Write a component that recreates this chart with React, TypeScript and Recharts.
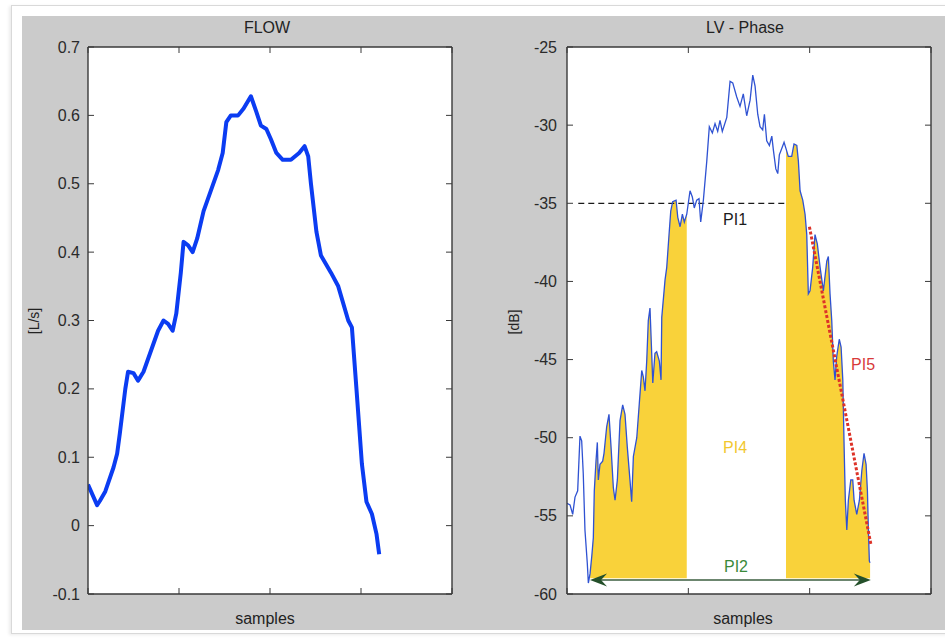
import React from 'react';
import { LineChart, ComposedChart, Line, Area, XAxis, YAxis, ReferenceLine, ReferenceDot, CartesianGrid } from 'recharts';

// ---------- FLOW panel data ----------
const flowSamples = [0, 10, 13, 19, 28, 32, 35, 41, 44, 50, 55, 61, 69, 77, 83, 88, 93, 97, 102, 105, 110, 115, 120, 127, 135, 143, 148, 152, 157, 165, 171, 179, 185, 190, 196, 201, 207, 214, 223, 232, 238, 242, 245, 251, 256, 267, 275, 286, 290, 295, 301, 306, 312, 317, 320];
const flowValues = [0.06, 0.03, 0.036, 0.05, 0.085, 0.105, 0.135, 0.2, 0.225, 0.223, 0.212, 0.225, 0.255, 0.285, 0.3, 0.295, 0.285, 0.31, 0.37, 0.415, 0.41, 0.4, 0.42, 0.46, 0.49, 0.52, 0.545, 0.59, 0.6, 0.6, 0.61, 0.628, 0.605, 0.585, 0.58, 0.565, 0.545, 0.535, 0.535, 0.545, 0.555, 0.54, 0.5, 0.43, 0.395, 0.37, 0.35, 0.3, 0.29, 0.2, 0.09, 0.035, 0.017, -0.012, -0.042];
const flowTicksY = [-0.1, 0, 0.1, 0.2, 0.3, 0.4, 0.5, 0.6, 0.7];
const flowTicksX = [0, 100, 200, 300, 400];

// ---------- LV - Phase panel data ----------
const phaseSamples = [0, 2.5, 4.7, 6.6, 8.8, 10.7, 12.1, 13.4, 14.8, 16.7, 17.6, 19, 20.4, 21.7, 22.5, 23.9, 25, 25.8, 27.2, 29.4, 30.5, 32.7, 34.6, 36.3, 38.2, 39.6, 41.5, 43.7, 45.9, 47.8, 49.7, 51.9, 53.3, 54.7, 57.5, 59.6, 61.6, 62.9, 64.3, 65.7, 67, 68.4, 69.8, 70.7, 72.5, 73.9, 76.1, 77.5, 78.1, 80.8, 82.2, 84.1, 85.5, 87.1, 89.9, 91.3, 93.2, 95.1, 96.7, 98.7, 101.4, 103.3, 104.9, 106.9, 108.8, 110.2, 112.4, 115.2, 117.3, 119.8, 122, 124.2, 126.1, 128, 131.7, 134.4, 136.6, 139.9, 142.6, 145.3, 148.1, 150.9, 153.1, 155, 157.2, 159.1, 161.3, 162.7, 164.6, 166.8, 168.8, 170.1, 172.1, 173.7, 175, 177, 178.9, 180.5, 182.4, 185.2, 187.1, 189.4, 190.7, 192.1, 194.3, 196.2, 197.6, 198.9, 200.3, 202.5, 204.4, 206.3, 208.6, 211.3, 214.1, 215.4, 216.8, 218.2, 219.5, 220.9, 222.3, 224.4, 225.9, 227.3, 228.4, 229.4, 230.6, 231.9, 233.9, 235.5, 236.6, 238.8, 241, 243, 244.8, 246.5, 247.6, 248.4, 249.2, 249.8];
const phaseValues = [-54.2, -54.3, -54.9, -53.8, -53.4, -49.9, -50.2, -52.3, -55.9, -58, -59.3, -58.7, -57.6, -56.4, -53.4, -51.5, -50.3, -52.7, -51.7, -51.5, -51, -49.3, -48.5, -50.6, -53.2, -54, -52.7, -48.9, -47.9, -48.5, -50.6, -52.7, -54.1, -51.2, -50, -47.8, -45.7, -46.1, -47, -45.1, -42.5, -41.7, -44.6, -46.5, -44.6, -44.5, -45.1, -46.3, -42.3, -39.9, -39.1, -37, -35.5, -34.9, -34.8, -35.9, -36.5, -35.7, -36.2, -35.7, -34.2, -34.6, -35.3, -34.8, -34.7, -36.2, -34.8, -32.3, -30.1, -30.5, -29.9, -30.4, -29.7, -30.4, -29.5, -27.2, -27.3, -28.2, -28.8, -28, -29.4, -28.4, -26.8, -27.5, -29.3, -30.1, -30.3, -29.3, -31, -31.3, -30.7, -31.6, -32.8, -33.1, -31.9, -31.5, -31.1, -31.5, -32, -32, -31.2, -31.3, -32.3, -34.2, -34.8, -35.7, -37, -40.8, -40.6, -39.1, -37, -37.6, -39.1, -40.6, -38.7, -38.4, -40.8, -42.5, -45.1, -46.3, -44.8, -43.7, -44.2, -46.3, -50.6, -54, -55.9, -54, -52.7, -52.7, -54, -54.9, -54, -52.1, -51, -51.7, -53.4, -55.9, -57.9, -58];
const phaseTicksY = [-60, -55, -50, -45, -40, -35, -30, -25];
const phaseTicksX = [0, 100, 200, 300];

// PI annotations
const pi4Ranges = [[19, 98.7], [180.5, 249.8]];
const pi4Base = -59;
const pi1Segment = [{ x: 9.3, y: -35 }, { x: 182.4, y: -35 }];
const pi2Segment = [{ x: 19, y: -59.1 }, { x: 250.4, y: -59.1 }];
const pi5Segment = [{ x: 199.8, y: -36.5 }, { x: 250.4, y: -56.8 }];
const piLabels = ['PI1', 'PI4', 'PI2', 'PI5'];
const piLabelX = [138.5, 138.5, 139.3, 244];
const piLabelY = [-36, -50.6, -58.2, -45.3];
const piLabelColors = ['#1c1c1c', '#f2c72e', '#3a8a3a', '#d83a3a'];

const flowData = flowSamples.map((s, i) => ({ s, v: flowValues[i] }));
const phaseData = phaseSamples.map((s, i) => ({
  s,
  v: phaseValues[i],
  fill: pi4Ranges.some(([a, b]) => s >= a && s <= b) ? phaseValues[i] : null,
}));

const FONT = '"Liberation Sans", Arial, Helvetica, sans-serif';
const AXIS = '#3a3a3a';
const TICK = 6;

const makeLeftTick = (gap: number, fmt: (v: number) => string) => (props: any) => {
  const { x, y, payload } = props;
  return (
    <g>
      <line x1={x + gap} x2={x + gap + TICK} y1={y} y2={y} stroke={AXIS} strokeWidth={1} />
      <text x={x} y={y} dy="0.35em" textAnchor="end" fill="#2a2a2a" fontSize={16} fontFamily={FONT}>
        {fmt(payload.value)}
      </text>
    </g>
  );
};
const RightTick = (props: any) => {
  const { x, y } = props;
  return <line x1={x} x2={x - TICK} y1={y} y2={y} stroke={AXIS} strokeWidth={1} />;
};
const BottomTick = (props: any) => {
  const { x, y } = props;
  return <line x1={x} x2={x} y1={y} y2={y - TICK} stroke={AXIS} strokeWidth={1} />;
};
const TopTick = (props: any) => {
  const { x, y } = props;
  return <line x1={x} x2={x} y1={y} y2={y + TICK} stroke={AXIS} strokeWidth={1} />;
};

const ArrowShape = (p: any) => {
  const { x1, y1, x2, y2 } = p;
  const head = '#24502a';
  const L = 17, H = 6.5, N = 11;
  return (
    <g>
      <line x1={x1 + 6} y1={y1} x2={x2 - 6} y2={y2} stroke="#3b5e3f" strokeWidth={1.5} />
      <polygon points={`${x1},${y1} ${x1 + L},${y1 - H} ${x1 + N},${y1} ${x1 + L},${y1 + H}`} fill={head} />
      <polygon points={`${x2},${y2} ${x2 - L},${y2 - H} ${x2 - N},${y2} ${x2 - L},${y2 + H}`} fill={head} />
    </g>
  );
};

const txt: React.CSSProperties = {
  position: 'absolute',
  fontFamily: FONT,
  fontSize: 16,
  color: '#222',
  lineHeight: '20px',
  textAlign: 'center',
  width: 200,
  whiteSpace: 'nowrap',
};
const vtxt: React.CSSProperties = {
  ...txt,
  fontSize: 14,
  width: 80,
  transform: 'rotate(-90deg)',
};

const flowFmt = (v: number) => (v === 0 ? '0' : String(v));
const phaseFmt = (v: number) => String(v);

export default function App() {
  return (
    <div style={{ position: 'absolute', left: 0, top: 0, width: 945, height: 638, overflow: 'hidden', background: '#fff' }}>
      <div style={{ position: 'absolute', left: 11, top: 5, width: 960, height: 627, border: '1px solid #d9d9d9', boxShadow: '-2px 1px 3px rgba(0,0,0,0.08)' }} />
      <div style={{ position: 'absolute', left: 22, top: 16, width: 923, height: 614, background: '#cbcbcb' }} />

      {/* FLOW */}
      <div style={{ position: 'absolute', left: 22, top: 16 }}>
        <LineChart width={458} height={614} data={flowData} margin={{ top: 0, right: 0, bottom: 0, left: 0 }}>
          <CartesianGrid xAxisId="b" yAxisId="l" fill="#ffffff" fillOpacity={1} horizontal={false} vertical={false} />
          <XAxis xAxisId="b" type="number" dataKey="s" domain={[0, 400]} ticks={flowTicksX} interval={0} height={36}
            allowDataOverflow tickSize={0} tickMargin={0} tickLine={false} axisLine={{ stroke: AXIS, strokeWidth: 1.4 }} tick={BottomTick} />
          <XAxis xAxisId="t" orientation="top" type="number" dataKey="s" domain={[0, 400]} ticks={flowTicksX} interval={0} height={31}
            allowDataOverflow tickSize={0} tickMargin={0} tickLine={false} axisLine={{ stroke: AXIS, strokeWidth: 1.4 }} tick={TopTick} />
          <YAxis yAxisId="l" type="number" domain={[-0.1, 0.7]} ticks={flowTicksY} interval={0} width={66}
            allowDataOverflow tickSize={0} tickMargin={8} tickLine={false} axisLine={{ stroke: AXIS, strokeWidth: 1.4 }} tick={makeLeftTick(8, flowFmt)} />
          <YAxis yAxisId="r" orientation="right" type="number" domain={[-0.1, 0.7]} ticks={flowTicksY} interval={0} width={28}
            allowDataOverflow tickSize={0} tickMargin={0} tickLine={false} axisLine={{ stroke: AXIS, strokeWidth: 1.4 }} tick={RightTick} />
          <Line xAxisId="b" yAxisId="l" type="linear" dataKey="v" stroke="#0b3cf2" strokeWidth={4} dot={false}
            isAnimationActive={false} strokeLinejoin="round" />
        </LineChart>
      </div>

      {/* LV - Phase */}
      <div style={{ position: 'absolute', left: 480, top: 16 }}>
        <ComposedChart width={465} height={614} data={phaseData} margin={{ top: 0, right: 0, bottom: 0, left: 0 }}>
          <CartesianGrid xAxisId="b" yAxisId="l" fill="#ffffff" fillOpacity={1} horizontal={false} vertical={false} />
          <XAxis xAxisId="b" type="number" dataKey="s" domain={[0, 300]} ticks={phaseTicksX} interval={0} height={36}
            allowDataOverflow tickSize={0} tickMargin={0} tickLine={false} axisLine={{ stroke: AXIS, strokeWidth: 1.4 }} tick={BottomTick} />
          <XAxis xAxisId="t" orientation="top" type="number" dataKey="s" domain={[0, 300]} ticks={phaseTicksX} interval={0} height={31}
            allowDataOverflow tickSize={0} tickMargin={0} tickLine={false} axisLine={{ stroke: AXIS, strokeWidth: 1.4 }} tick={TopTick} />
          <YAxis yAxisId="l" type="number" domain={[-60, -25]} ticks={phaseTicksY} interval={0} width={87}
            allowDataOverflow tickSize={0} tickMargin={10} tickLine={false} axisLine={{ stroke: AXIS, strokeWidth: 1.4 }} tick={makeLeftTick(10, phaseFmt)} />
          <YAxis yAxisId="r" orientation="right" type="number" domain={[-60, -25]} ticks={phaseTicksY} interval={0} width={14}
            allowDataOverflow tickSize={0} tickMargin={0} tickLine={false} axisLine={{ stroke: AXIS, strokeWidth: 1.4 }} tick={RightTick} />
          <Area xAxisId="b" yAxisId="l" type="linear" dataKey="fill" baseValue={pi4Base} stroke="none" fill="#f9d23a"
            fillOpacity={1} connectNulls={false} isAnimationActive={false} dot={false} activeDot={false} />
          <ReferenceLine xAxisId="b" yAxisId="l" segment={pi1Segment} stroke="#1a1a1a" strokeWidth={1.3} strokeDasharray="6 4" />
          <Line xAxisId="b" yAxisId="l" type="linear" dataKey="v" stroke="#2f52d2" strokeWidth={1.3} dot={false}
            isAnimationActive={false} />
          <ReferenceLine xAxisId="b" yAxisId="l" segment={pi5Segment} stroke="#dd3328" strokeWidth={3} strokeDasharray="3 2" />
          <ReferenceLine xAxisId="b" yAxisId="l" segment={pi2Segment} shape={ArrowShape} />
          {piLabels.map((t, i) => (
            <ReferenceDot key={t} xAxisId="b" yAxisId="l" x={piLabelX[i]} y={piLabelY[i]} r={0} fill="none" stroke="none"
              label={{ value: t, position: 'center', fill: piLabelColors[i], fontSize: 16, fontFamily: FONT }} />
          ))}
        </ComposedChart>
      </div>

      {/* Titles and axis labels */}
      <div style={{ ...txt, left: 267 - 100, top: 18 }}>FLOW</div>
      <div style={{ ...txt, left: 745 - 100, top: 18 }}>LV - Phase</div>
      <div style={{ ...txt, left: 265 - 100, top: 609 }}>samples</div>
      <div style={{ ...txt, left: 743 - 100, top: 609 }}>samples</div>
      <div style={{ ...vtxt, left: 34 - 40, top: 321 - 10 }}>[L/s]</div>
      <div style={{ ...vtxt, left: 514 - 40, top: 322 - 10 }}>[dB]</div>
    </div>
  );
}
